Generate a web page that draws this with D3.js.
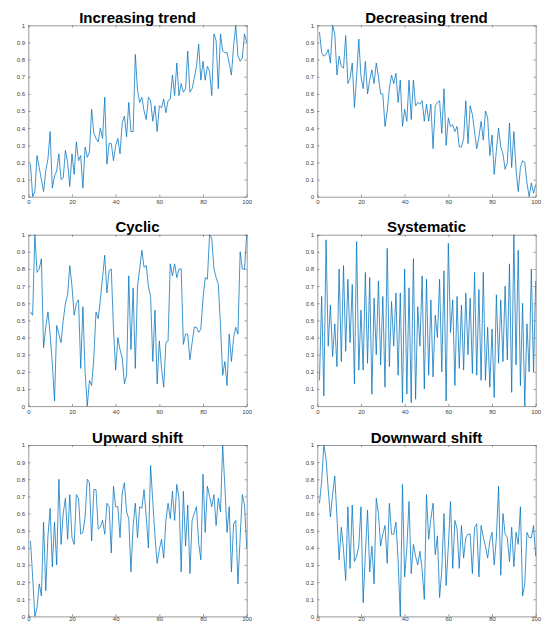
<!DOCTYPE html>
<html>
<head>
<meta charset="utf-8">
<script src="https://cdn.jsdelivr.net/npm/d3@7"></script>
<style>
  html, body { margin: 0; padding: 0; background: #fff; }
  svg { display: block; }
  .tick text { font-family: "Liberation Sans", Arial, Helvetica, sans-serif; font-size: 6px; fill: #404040; }
  .title { font-family: "Liberation Sans", Arial, Helvetica, sans-serif; font-size: 15px; font-weight: bold; fill: #000; }
</style>
</head>
<body>
<script>
// Six control-chart style patterns, each sampled at t = 1..100
const titles = ["Increasing trend", "Decreasing trend", "Cyclic", "Systematic", "Upward shift", "Downward shift"];

const increasing = [0.19,0.00,0.03,0.24,0.17,0.10,0.03,0.15,0.22,0.38,0.05,0.12,0.15,0.25,0.10,0.11,0.27,0.20,0.06,0.25,
  0.13,0.32,0.21,0.24,0.05,0.29,0.23,0.26,0.51,0.37,0.34,0.32,0.40,0.34,0.58,0.19,0.31,0.31,0.21,0.30,
  0.34,0.25,0.43,0.47,0.35,0.55,0.38,0.38,0.83,0.62,0.55,0.58,0.50,0.45,0.58,0.56,0.44,0.53,0.38,0.53,
  0.52,0.57,0.49,0.56,0.57,0.71,0.59,0.78,0.59,0.66,0.61,0.63,0.85,0.61,0.63,0.69,0.76,0.89,0.68,0.79,
  0.68,0.76,0.73,0.59,0.95,0.91,0.63,0.95,0.85,0.84,0.84,0.78,0.71,0.88,1.00,0.82,0.79,0.81,0.95,0.90];

const decreasing = [0.96,0.84,0.82,0.83,0.86,0.78,1.00,0.95,0.71,0.82,0.76,0.75,0.94,0.66,0.69,0.78,0.52,0.70,0.92,0.70,
  0.63,0.79,0.60,0.68,0.74,0.66,0.78,0.70,0.60,0.60,0.41,0.50,0.63,0.71,0.66,0.72,0.55,0.68,0.41,0.51,
  0.44,0.68,0.45,0.68,0.53,0.55,0.54,0.56,0.44,0.54,0.44,0.54,0.28,0.53,0.55,0.56,0.37,0.63,0.30,0.46,
  0.41,0.42,0.38,0.41,0.29,0.29,0.34,0.56,0.31,0.53,0.48,0.38,0.28,0.35,0.44,0.33,0.50,0.46,0.24,0.36,
  0.13,0.27,0.40,0.29,0.25,0.16,0.20,0.43,0.17,0.38,0.16,0.03,0.17,0.21,0.20,0.08,0.00,0.08,0.02,0.07];

const cyclic = [0.55,0.53,1.00,0.78,0.80,0.86,0.34,0.46,0.55,0.42,0.25,0.03,0.47,0.42,0.37,0.50,0.60,0.65,0.82,0.70,
  0.53,0.60,0.62,0.22,0.58,0.20,0.00,0.15,0.12,0.28,0.55,0.51,0.62,0.75,0.88,0.66,0.79,0.80,0.45,0.21,
  0.40,0.33,0.28,0.13,0.18,0.76,0.33,0.69,0.22,0.70,0.80,0.91,0.81,0.82,0.70,0.64,0.26,0.56,0.13,0.38,
  0.22,0.11,0.37,0.38,0.83,0.76,0.83,0.75,0.80,0.80,0.36,0.42,0.42,0.27,0.37,0.46,0.46,0.43,0.45,0.63,
  0.75,0.74,1.00,0.98,0.80,0.75,0.71,0.47,0.18,0.26,0.12,0.42,0.26,0.40,0.46,0.42,0.90,0.80,0.80,1.00];

const systematic = [0.15,0.64,0.06,0.97,0.35,0.59,0.29,0.48,0.23,0.80,0.26,0.82,0.32,0.74,0.37,0.71,0.13,0.96,0.21,0.56,
  0.21,0.78,0.25,0.75,0.07,0.63,0.30,0.73,0.24,0.64,0.11,0.92,0.23,0.61,0.35,0.66,0.18,0.66,0.02,0.80,
  0.07,0.69,0.02,0.86,0.04,0.58,0.35,0.76,0.10,0.74,0.18,0.62,0.17,0.53,0.40,0.74,0.20,0.79,0.03,0.95,
  0.43,0.62,0.12,0.64,0.22,0.59,0.21,0.66,0.30,0.63,0.19,0.78,0.18,0.68,0.15,0.78,0.15,0.46,0.11,0.45,
  0.05,0.65,0.25,0.62,0.26,0.70,0.27,0.83,0.08,1.00,0.24,0.91,0.12,0.60,0.00,0.48,0.20,0.80,0.20,0.73];

const upwardShift = [0.44,0.23,0.00,0.05,0.19,0.12,0.55,0.15,0.47,0.63,0.29,0.55,0.30,0.80,0.42,0.60,0.69,0.45,0.71,0.46,
  0.42,0.71,0.69,0.48,0.49,0.58,0.80,0.78,0.44,0.74,0.74,0.51,0.52,0.56,0.48,0.66,0.64,0.37,0.76,0.64,
  0.64,0.46,0.72,0.78,0.61,0.57,0.26,0.53,0.66,0.46,0.64,0.63,0.74,0.58,0.40,0.88,0.67,0.47,0.31,0.39,
  0.45,0.34,0.56,0.66,0.57,0.73,0.56,0.77,0.69,0.26,0.73,0.41,0.65,0.25,0.56,0.60,0.64,0.43,0.33,0.83,
  0.49,0.76,0.70,0.64,0.71,0.53,0.69,0.61,1.00,0.76,0.49,0.64,0.26,0.54,0.56,0.19,0.46,0.71,0.65,0.40];

const downwardShift = [0.66,0.79,1.00,0.92,0.74,0.58,0.71,0.82,0.58,0.33,0.52,0.39,0.21,0.64,0.28,0.65,0.32,0.35,0.41,0.64,
  0.08,0.36,0.62,0.26,0.41,0.19,0.69,0.60,0.41,0.48,0.53,0.31,0.66,0.48,0.48,0.55,0.33,0.00,0.77,0.23,
  0.40,0.67,0.25,0.42,0.35,0.30,0.38,0.27,0.10,0.71,0.45,0.57,0.66,0.36,0.47,0.11,0.27,0.60,0.18,0.41,
  0.67,0.28,0.56,0.51,0.28,0.53,0.34,0.46,0.48,0.48,0.25,0.52,0.54,0.23,0.53,0.46,0.41,0.34,0.44,0.49,
  0.30,0.46,0.76,0.24,0.60,0.48,0.46,0.32,0.52,0.29,0.49,0.42,0.64,0.12,0.19,0.49,0.46,0.46,0.53,0.35];

const xTicks = [0, 20, 40, 60, 80, 100];
const yTicks = [0, 0.1, 0.2, 0.3, 0.4, 0.5, 0.6, 0.7, 0.8, 0.9, 1];

const seriesList = [increasing, decreasing, cyclic, systematic, upwardShift, downwardShift];

// Page and axes geometry
const W = 542, H = 623;
const colLeft = [28.3, 317.3];
const rowTop = [25.3, 234.7, 445];
const axW = 218.4, axH = 171.4;
const tickLen = 2.2;
const axisColor = "#6e6e6e";
const lineColor = "#0072BD";

const svg = d3.select("body").append("svg")
  .attr("width", W).attr("height", H);

const x = d3.scaleLinear().domain([0, 100]).range([0, axW]);
const y = d3.scaleLinear().domain([0, 1]).range([axH, 0]);
const yFmt = d => (d === 0 || d === 1) ? String(d) : d.toFixed(1);

seriesList.forEach((values, i) => {
  const col = i % 2, row = Math.floor(i / 2);
  const g = svg.append("g")
    .attr("transform", `translate(${colLeft[col]},${rowTop[row]})`);

  // series line
  const pts = values.map((v, k) => [k + 1, v]);
  g.append("path")
    .datum(pts)
    .attr("fill", "none")
    .attr("stroke", lineColor)
    .attr("stroke-width", 0.75)
    .attr("stroke-linejoin", "round")
    .attr("d", d3.line().x(d => x(d[0])).y(d => y(d[1])));

  // box axes with inward ticks; the last row keeps its labels inside the page
  const xPad = row === 2 ? 0.6 : 3.5;
  const bottom = g.append("g").attr("transform", `translate(0,${axH})`)
    .call(d3.axisBottom(x).tickValues(xTicks).tickSizeInner(-tickLen).tickSizeOuter(0).tickPadding(xPad));
  const top = g.append("g")
    .call(d3.axisTop(x).tickValues(xTicks).tickSizeInner(-tickLen).tickSizeOuter(0).tickFormat(""));
  const left = g.append("g")
    .call(d3.axisLeft(y).tickValues(yTicks).tickFormat(yFmt).tickSizeInner(-tickLen).tickSizeOuter(0).tickPadding(3.2));
  const right = g.append("g").attr("transform", `translate(${axW},0)`)
    .call(d3.axisRight(y).tickValues(yTicks).tickSizeInner(-tickLen).tickSizeOuter(0).tickFormat(""));

  [bottom, top, left, right].forEach(a => {
    a.select(".domain").attr("stroke", axisColor).attr("stroke-width", 0.7);
    a.selectAll(".tick line").attr("stroke", axisColor).attr("stroke-width", 0.7);
  });

  // title
  g.append("text")
    .attr("class", "title")
    .attr("x", axW / 2)
    .attr("y", -2.4)
    .attr("text-anchor", "middle")
    .text(titles[i]);
});
</script>
</body>
</html>
